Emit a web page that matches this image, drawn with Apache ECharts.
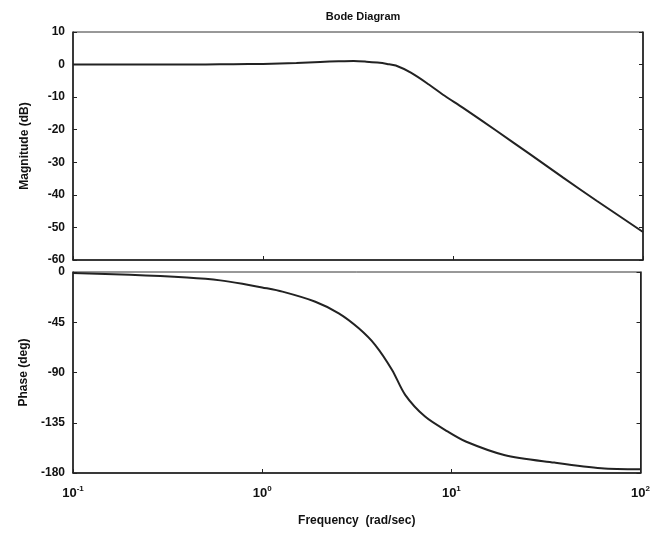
<!DOCTYPE html>
<html>
<head>
<meta charset="utf-8">
<script src="https://cdn.jsdelivr.net/npm/echarts@6/dist/echarts.min.js"></script>
<style>
  html, body { margin: 0; padding: 0; background: #fff; }
  #bode { width: 653px; height: 535px; }
</style>
</head>
<body>
<div id="bode"></div>
<script>
// values
var magFreq = [0.1, 0.2, 0.3, 0.5, 0.7, 1, 1.5, 2, 2.5, 3, 3.5, 4, 4.5, 5, 6, 7.5, 9, 11.3, 17, 25.4, 38, 57, 100];
var magDb = [0, 0, 0, 0.05, 0.1, 0.2, 0.5, 0.8, 1.0, 1.1, 0.9, 0.6, 0.2, -0.3, -2.5, -6.2, -9.5, -13.3, -20.4, -27.5, -34.7, -41.8, -51.4];

var phaseFreq = [0.1, 0.2, 0.4, 0.6, 0.85, 1, 1.28, 1.91, 2.54, 3.24, 3.96, 4.86, 5.7, 7.26, 9.6, 12, 19, 35, 62, 100];
var phaseDeg = [-1, -2.5, -5, -7.5, -11.6, -13.8, -17.6, -26.6, -37, -50.4, -65.4, -87.7, -110, -129.5, -143, -152, -163.8, -170.7, -175.8, -176.7];

var magTicks = { min: -60, max: 10, step: 10 };
var phaseTicks = { min: -180, max: 0, step: 45 };

function pairs(xs, ys) {
	var out = [];
	for (var i = 0; i < xs.length; i++) {
		out.push([xs[i], ys[i]]);
	}
	return out;
}

var labelFont = {
	color : '#111',
	fontFamily : 'Liberation Sans Narrow, Arial Narrow, Liberation Sans, sans-serif',
	fontWeight : 'bold',
	fontSize : 12
};

function freqLabel(v) {
	var e = Math.round(Math.log10(v));
	return '10{sup|' + e + '}';
}

var frame = { onZero : false, lineStyle : { color : '#1a1a1a', width : 1.5 } };
var ticks = { inside : true, length : 4, lineStyle : { color : '#222' } };

var option = {
	backgroundColor : '#fff',
	animation : false,
	title : {
		text : 'Bode Diagram',
		left : 358,
		top : 6,
		textAlign : 'center',
		textStyle : { color : '#111', fontSize : 11, fontWeight : 'bold',
			fontFamily : labelFont.fontFamily }
	},
	grid : [ {
		left : 73, top : 32, width : 570, height : 228,
		show : true, borderColor : '#333', borderWidth : 1
	}, {
		left : 73, top : 272, width : 570, height : 201,
		show : true, borderColor : '#333', borderWidth : 1
	} ],
	xAxis : [ {
		gridIndex : 0, type : 'log', logBase : 10, min : 0.1, max : 100,
		axisLine : frame,
		axisTick : ticks,
		axisLabel : { show : false },
		splitLine : { show : false }
	}, {
		gridIndex : 1, type : 'log', logBase : 10, min : 0.1, max : 100,
		axisLine : frame,
		axisTick : ticks,
		axisLabel : {
			formatter : freqLabel,
			margin : 12,
			color : labelFont.color, fontFamily : labelFont.fontFamily,
			fontWeight : 'bold', fontSize : 13,
			rich : { sup : { fontSize : 8, fontWeight : 'bold', verticalAlign : 'top',
				padding : [0, 0, 8, 0], fontFamily : labelFont.fontFamily, color : '#111' } }
		},
		splitLine : { show : false },
		name : 'Frequency  (rad/sec)',
		nameLocation : 'middle',
		nameGap : 42,
		nameTextStyle : { color : '#111', fontSize : 12, fontWeight : 'bold',
			fontFamily : labelFont.fontFamily }
	} ],
	yAxis : [ {
		gridIndex : 0, type : 'value',
		min : magTicks.min, max : magTicks.max, interval : magTicks.step,
		axisLine : frame,
		axisTick : ticks,
		axisLabel : labelFont,
		splitLine : { show : false },
		name : 'Magnitude (dB)',
		nameLocation : 'middle',
		nameGap : 42,
		nameTextStyle : { color : '#111', fontSize : 12, fontWeight : 'bold',
			fontFamily : labelFont.fontFamily }
	}, {
		gridIndex : 0, type : 'value', position : 'right',
		min : magTicks.min, max : magTicks.max, interval : magTicks.step,
		axisLine : frame,
		axisTick : ticks,
		axisLabel : { show : false },
		splitLine : { show : false }
	}, {
		gridIndex : 1, type : 'value',
		min : phaseTicks.min, max : phaseTicks.max, interval : phaseTicks.step,
		axisLine : frame,
		axisTick : ticks,
		axisLabel : labelFont,
		splitLine : { show : false },
		name : 'Phase (deg)',
		nameLocation : 'middle',
		nameGap : 42,
		nameTextStyle : { color : '#111', fontSize : 12, fontWeight : 'bold',
			fontFamily : labelFont.fontFamily }
	}, {
		gridIndex : 1, type : 'value', position : 'right',
		min : phaseTicks.min, max : phaseTicks.max, interval : phaseTicks.step,
		axisLine : frame,
		axisTick : ticks,
		axisLabel : { show : false },
		splitLine : { show : false }
	} ],
	series : [ {
		name : 'Magnitude',
		type : 'line',
		xAxisIndex : 0, yAxisIndex : 0,
		data : pairs(magFreq, magDb),
		smooth : 0.3,
		showSymbol : false,
		lineStyle : { color : '#222', width : 2 }
	}, {
		name : 'Phase',
		type : 'line',
		xAxisIndex : 1, yAxisIndex : 2,
		data : pairs(phaseFreq, phaseDeg),
		smooth : 0.3,
		showSymbol : false,
		lineStyle : { color : '#222', width : 2 }
	} ]
};

var myChart = echarts.init(document.getElementById('bode'));
myChart.setOption(option);
</script>
</body>
</html>
